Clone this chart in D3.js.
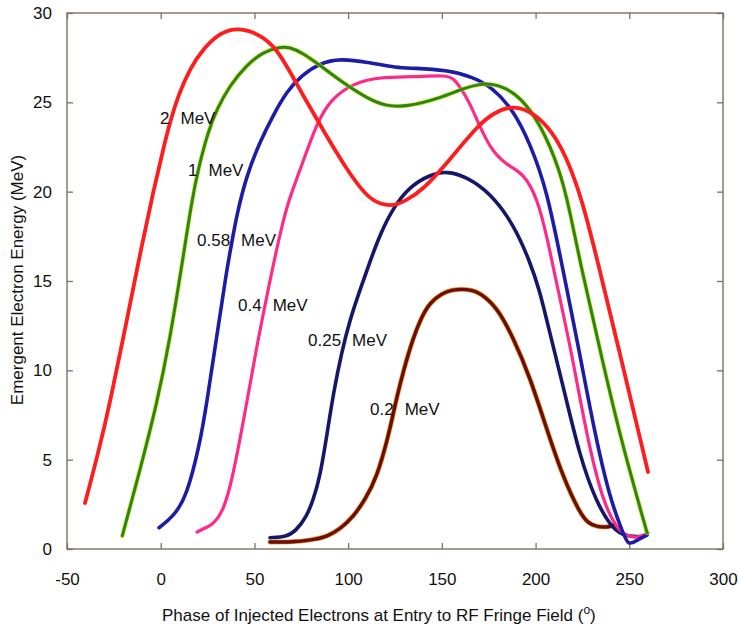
<!DOCTYPE html>
<html>
<head>
<meta charset="utf-8">
<script src="https://cdn.jsdelivr.net/npm/d3@7"></script>
<style>
  html, body { margin: 0; padding: 0; background: #fff; }
  svg { display: block; font-family: "Liberation Sans", Arial, Helvetica, sans-serif; }
</style>
</head>
<body>
<svg id="chart" width="738" height="631"></svg>
<script>
// Emergent electron energy (MeV) versus injection phase (degrees),
// one curve per injection energy.
const phase2 = [-40.4,-33.5,-27.06,-18.1,-10.1,-3.96,1.38,4.95,9.38,15.6,22.7,31.6,41.4,53,61.9,69,77,86.6,99.4,110.1,117,124,130,139.9,152.7,170.3,178,184.8,193.3,206.1,216.8,225.3,232.8,245.1,260];
const energy2 = [2.57,5.3,8.17,12.8,17.0,20.0,22.4,23.9,25.4,26.9,28.0,28.9,29.2,28.8,28.0,26.7,25.2,23.45,21.2,19.7,19.3,19.2,19.45,20.09,21.6,23.84,24.4,24.73,24.73,23.84,21.94,19.37,16.23,10.9,4.31];

const phase1 = [-20.5,-11.05,-1.94,5.15,10.8,12.96,16.53,20.05,25.4,29.87,36.97,45.88,54.73,63.64,68.98,75,83.4,97.3,111.7,120,131.4,149,162,170.4,177.3,184,191.7,202.4,213.1,218.4,223.7,234.4,245.1,259.5];
const energy1 = [0.74,4.42,8.17,11.88,15.6,17.0,19.44,21.3,23.4,24.6,25.97,27.09,27.83,28.11,28.08,27.8,27.2,26.08,25.13,24.8,24.74,25.24,25.8,26.03,26.03,25.8,25.3,23.84,21.2,18.86,16.06,11.14,6.27,0.9];

const phase058 = [-0.9,6.7,13.86,20.96,24.53,29.87,35.2,37.5,40.54,45.88,52.97,60.07,67.2,75,85,95.66,110.1,126.1,134.6,152.7,166.6,177.3,188,197,206.1,214.6,223.2,231.2,239.8,246.7,249.4,254.2,259.5];
const energy058 = [1.19,1.81,2.93,5.92,8.15,11.88,15.6,16.9,18.7,20.93,22.8,24.29,25.6,26.5,27.2,27.45,27.26,26.92,26.92,26.81,26.42,25.8,24.57,22.72,20.09,15.62,11.14,6.66,2.74,0.9,0.17,0.5,0.78];

const phase04 = [19.36,22.3,27,33.2,38.57,45.88,51.21,55.64,62.58,67.91,74.31,83.22,90.32,102.6,117,134.6,152.7,156.5,159.7,165,170.3,177.3,186.3,193.3,200.8,206.1,210.4,219.3,227.3,236.1,243.4,248,254.2,260];
const energy04 = [0.95,1.12,1.3,2.01,4.03,8.17,11.31,13.66,17.18,19.45,21.19,23.83,25.13,26.08,26.42,26.42,26.53,26.3,25.86,24.96,23.62,22.16,21.38,21.04,19.7,17.46,15.28,10.97,6.31,2.56,1.175,0.75,0.6,0.9];

const phase025 = [58.3,67.2,72,77.9,81.5,85,89,92.1,96.5,101,106.3,111.7,117,124,133,143.7,152.7,163.4,175.7,187.9,197,202.3,205.9,214.8,223.6,232.6,241.5,248.6,257.5];
const energy025 = [0.63,0.69,1.0,1.81,2.8,4.05,6.6,8.7,11.0,12.85,14.5,16.1,17.6,19.1,20.3,20.95,21.16,20.82,19.93,18.25,16.1,14.4,12.82,9.08,5.16,2.56,1.06,0.69,0.69];

const phase02 = [58.3,70.6,80,88.7,96,102.6,109,115.4,121.4,124.1,125.8,129.4,134.6,139.2,143.7,150,155,160.7,166,170.4,179.4,187.9,197,206.1,214.6,223.6,228,232.7,239.7,241.5];
const energy02 = [0.39,0.39,0.5,0.67,1.15,1.79,2.75,4.03,6.3,7.6,8.4,9.95,11.8,13.0,13.8,14.3,14.5,14.55,14.5,14.33,13.54,11.87,9.63,6.66,4.03,2.01,1.45,1.23,1.23,1.34];

const xTicks = [-50, 0, 50, 100, 150, 200, 250, 300];
const yTicks = [0, 5, 10, 15, 20, 25, 30];

const labels = [
  { num: "2",    unit: "MeV", at: [160, 118] },
  { num: "1",    unit: "MeV", at: [188, 170] },
  { num: "0.58", unit: "MeV", at: [197, 240] },
  { num: "0.4",  unit: "MeV", at: [238, 305] },
  { num: "0.25", unit: "MeV", at: [308, 340] },
  { num: "0.2",  unit: "MeV", at: [370, 409] }
];

// draw order: bottom first
const series = [
  { phase: phase02,  energy: energy02,  color: "#6a1000", halo: "#e8780a", w: 3.4 },
  { phase: phase025, energy: energy025, color: "#16166a", halo: null,      w: 3.6 },
  { phase: phase04,  energy: energy04,  color: "#ff2a88", halo: null,      w: 3.2 },
  { phase: phase058, energy: energy058, color: "#1c1ca8", halo: null,      w: 3.6 },
  { phase: phase1,   energy: energy1,   color: "#2f8418", halo: "#c8e600", w: 3.0 },
  { phase: phase2,   energy: energy2,   color: "#ff1c1c", halo: null,      w: 3.8 }
];

const svg = d3.select("#chart");
const mLeft = 67, mRight = 723, mTop = 13, mBottom = 549;

const x = d3.scaleLinear().domain([-50, 300]).range([mLeft, mRight]);
const y = d3.scaleLinear().domain([0, 30]).range([mBottom, mTop]);

const frameColor = "#7a7264";

// frame
svg.append("rect")
  .attr("x", mLeft).attr("y", mTop)
  .attr("width", mRight - mLeft).attr("height", mBottom - mTop)
  .attr("fill", "none").attr("stroke", frameColor).attr("stroke-width", 1.4);

const fmt = d => String(d);

// bottom axis (ticks pointing inward) with labels
const xAxis = svg.append("g").attr("transform", `translate(0,${mBottom})`)
  .call(d3.axisBottom(x).tickValues(xTicks).tickFormat(fmt)
    .tickSizeInner(-6).tickSizeOuter(0).tickPadding(24));
// left axis
const yAxis = svg.append("g").attr("transform", `translate(${mLeft},0)`)
  .call(d3.axisLeft(y).tickValues(yTicks).tickFormat(fmt)
    .tickSizeInner(-6).tickSizeOuter(0).tickPadding(15));
// top and right mirrored ticks
const xTop = svg.append("g").attr("transform", `translate(0,${mTop})`)
  .call(d3.axisTop(x).tickValues(xTicks).tickSizeInner(-6).tickSizeOuter(0).tickFormat(""));
const yRight = svg.append("g").attr("transform", `translate(${mRight},0)`)
  .call(d3.axisRight(y).tickValues(yTicks).tickSizeInner(-6).tickSizeOuter(0).tickFormat(""));

[xAxis, yAxis, xTop, yRight].forEach(g => {
  g.select(".domain").remove();
  g.selectAll(".tick line").attr("stroke", frameColor).attr("stroke-width", 1.3);
  g.selectAll(".tick text").attr("fill", "#111").attr("font-size", 17)
    .attr("font-family", "Liberation Sans, Arial, sans-serif");
});

// curves
const line = d3.line()
  .x(d => x(d[0]))
  .y(d => y(d[1]))
  .curve(d3.curveBasis);

const curves = svg.append("g").attr("fill", "none")
  .attr("stroke-linecap", "round").attr("stroke-linejoin", "round");

series.forEach(s => {
  const pts = s.phase.map((p, i) => [p, s.energy[i]]);
  if (s.halo) {
    curves.append("path").attr("d", line(pts))
      .attr("stroke", s.halo).attr("stroke-width", s.w + 1.4).attr("stroke-opacity", 0.8);
  }
  curves.append("path").attr("d", line(pts))
    .attr("stroke", s.color).attr("stroke-width", s.w);
});

// curve labels
const lab = svg.append("g").attr("font-size", 17).attr("fill", "#111");
labels.forEach(l => {
  const t = lab.append("text").attr("x", l.at[0]).attr("y", l.at[1]).attr("dy", "0.36em");
  t.append("tspan").text(l.num);
  t.append("tspan").attr("dx", 11).text(l.unit);
});

// axis titles
const xt = svg.append("text")
  .attr("x", 162).attr("y", 621)
  .attr("font-size", 17).attr("fill", "#111");
xt.append("tspan").text("Phase of Injected Electrons at Entry to RF Fringe Field (");
xt.append("tspan").attr("font-size", 12).attr("dy", -7).text("o");
xt.append("tspan").attr("dy", 7).text(")");

svg.append("text")
  .attr("transform", "translate(23,280) rotate(-90)")
  .attr("text-anchor", "middle")
  .attr("font-size", 17).attr("fill", "#111")
  .text("Emergent Electron Energy (MeV)");
</script>
</body>
</html>
